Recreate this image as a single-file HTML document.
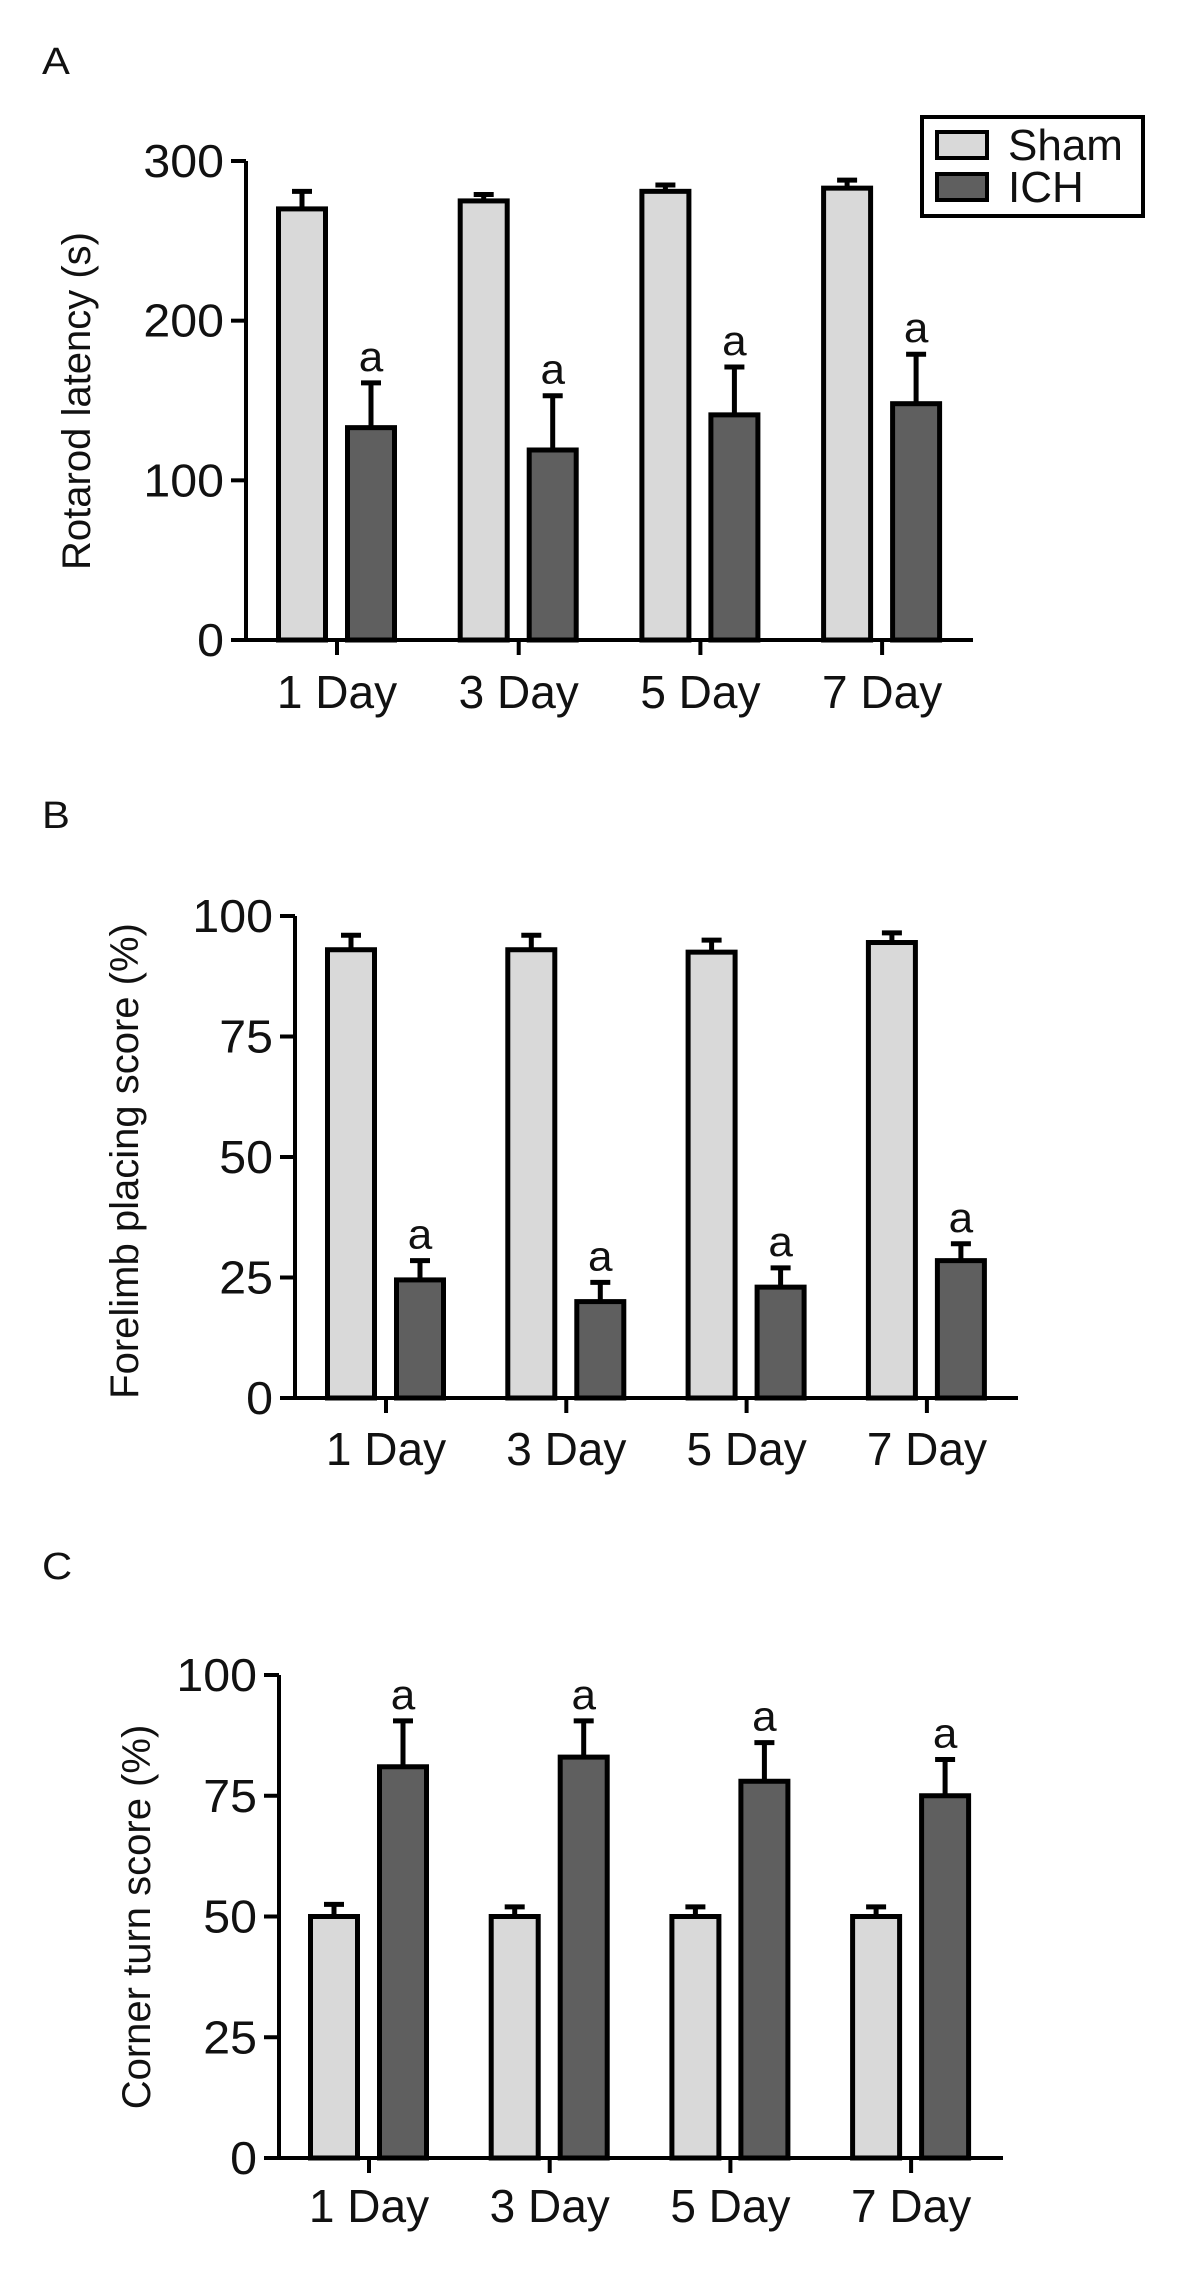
<!DOCTYPE html>
<html><head><meta charset="utf-8"><style>
html,body{margin:0;padding:0;background:#fff;}
svg{display:block;font-family:"Liberation Sans",Arial,sans-serif;}
</style></head><body>
<svg id="fig" width="1181" height="2269" viewBox="0 0 1181 2269" xmlns="http://www.w3.org/2000/svg">
<rect width="1181" height="2269" fill="#fff"/>
</svg>
<script>
const categories = ["1 Day","3 Day","5 Day","7 Day"];
// Panel A
const aTicks = [0,100,200,300];
const aSham = [270,275,281,283];
const aShamErr = [11,4,4,5];
const aICH = [133,119,141,148];
const aICHErr = [28,34,30,31];
// Panel B
const bTicks = [0,25,50,75,100];
const bSham = [93,93,92.5,94.5];
const bShamErr = [3,3,2.5,2];
const bICH = [24.5,20,23,28.5];
const bICHErr = [4,4,4,3.5];
// Panel C
const cTicks = [0,25,50,75,100];
const cSham = [50,50,50,50];
const cShamErr = [2.5,2,2,2];
const cICH = [81,83,78,75];
const cICHErr = [9.5,7.5,8,7.5];

const NS="http://www.w3.org/2000/svg";
const svg=document.getElementById('fig');
function el(tag,attrs,parent){const e=document.createElementNS(NS,tag);for(const k in attrs)e.setAttribute(k,attrs[k]);(parent||svg).appendChild(e);return e;}
function txt(x,y,s,anchor,size,sx,parent){const t=el('text',{transform:`translate(${x},${y}) scale(${sx},1)`,'text-anchor':anchor||'middle','font-size':size||40,fill:'#111'},parent);t.textContent=s;return t;}

function panel(o){
  const g=el('g',{});
  
  
  const y=v=>o.y0-(v/o.max)*(o.y0-o.yTop);
  const lbl=txt(42,o.letterY,o.letter,'start',38,1.1,g);
  
  
  const ax=el('line',{x1:o.ax,y1:o.yTop,x2:o.ax,y2:o.y0,stroke:'#000','stroke-width':4},g);
  
  
  o.ticks.forEach(t=>{
    const tk=el('line',{x1:o.ax-15,y1:y(t),x2:o.ax,y2:y(t),stroke:'#000','stroke-width':4},g);
    
    
    const tl=txt(o.ax-22,y(t)+16,String(t),'end',46,1.05,g);
    
    
  });
  const yt=el('text',{transform:`translate(${o.ylx},${o.yly}) rotate(-90)`,'text-anchor':'middle','font-size':40,fill:'#111'},g);
  yt.textContent=o.ytitle;
  
  
  const w=47;
  categories.forEach((c,i)=>{
    const cx=o.t0+i*o.step;
    const series=[[o.sham[i],o.shamErr[i],'#d9d9d9',-35,'sham'],[o.ich[i],o.ichErr[i],'#5f5f5f',34,'ich']];
    series.forEach(([v,e,col,off,nm])=>{
      const bx=cx+off-w/2;
      const b=el('rect',{x:bx,y:y(v),width:w,height:o.y0-y(v),fill:col,stroke:'#000','stroke-width':5},g);
      
      
      const eb=el('path',{d:`M${cx+off},${y(v)}V${y(v+e)}M${cx+off-10},${y(v+e)}H${cx+off+10}`,stroke:'#000','stroke-width':5,fill:'none'},g);
      
      
      if(nm==='ich'){
        const a=txt(cx+off,y(v+e)-12,'a','middle',42,1.05,g);
        
        
      }
    });
    const xt=el('line',{x1:cx,y1:o.y0,x2:cx,y2:o.y0+15,stroke:'#000','stroke-width':4},g);
    
    
    const xl=txt(cx,o.xly,c,'middle',46,1.0,g);
    
    
  });
  const xa=el('line',{x1:o.xa0,y1:o.y0,x2:o.xa1,y2:o.y0,stroke:'#000','stroke-width':4},g);
  
  
}

panel({name:'panel-a-rotarod',letter:'A',letterY:74,ticks:aTicks,max:300,yTop:161,y0:640,ax:246,xa0:232,xa1:973,t0:337,step:181.7,
  sham:aSham,shamErr:aShamErr,ich:aICH,ichErr:aICHErr,ytitle:'Rotarod latency (s)',ylx:90,yly:401,xly:708});
panel({name:'panel-b-forelimb',letter:'B',letterY:828,ticks:bTicks,max:100,yTop:916,y0:1398,ax:295,xa0:282,xa1:1018,t0:386,step:180.3,
  sham:bSham,shamErr:bShamErr,ich:bICH,ichErr:bICHErr,ytitle:'Forelimb placing score (%)',ylx:138,yly:1161,xly:1465});
panel({name:'panel-c-corner-turn',letter:'C',letterY:1579,ticks:cTicks,max:100,yTop:1675,y0:2158,ax:279,xa0:265,xa1:1003,t0:369,step:180.7,
  sham:cSham,shamErr:cShamErr,ich:cICH,ichErr:cICHErr,ytitle:'Corner turn score (%)',ylx:150,yly:1917,xly:2222});

const lg=el('g',{});


el('rect',{x:922,y:117,width:221,height:99,fill:'#fff',stroke:'#000','stroke-width':4},lg);
const s1=el('rect',{x:937,y:132,width:50,height:26,fill:'#d9d9d9',stroke:'#000','stroke-width':4},lg);


const t1=txt(1008,160,'Sham','start',44,1.0,lg);


const s2=el('rect',{x:937,y:174,width:50,height:26,fill:'#5f5f5f',stroke:'#000','stroke-width':4},lg);


const t2=txt(1008,202,'ICH','start',44,1.0,lg);


</script>
</body></html>
